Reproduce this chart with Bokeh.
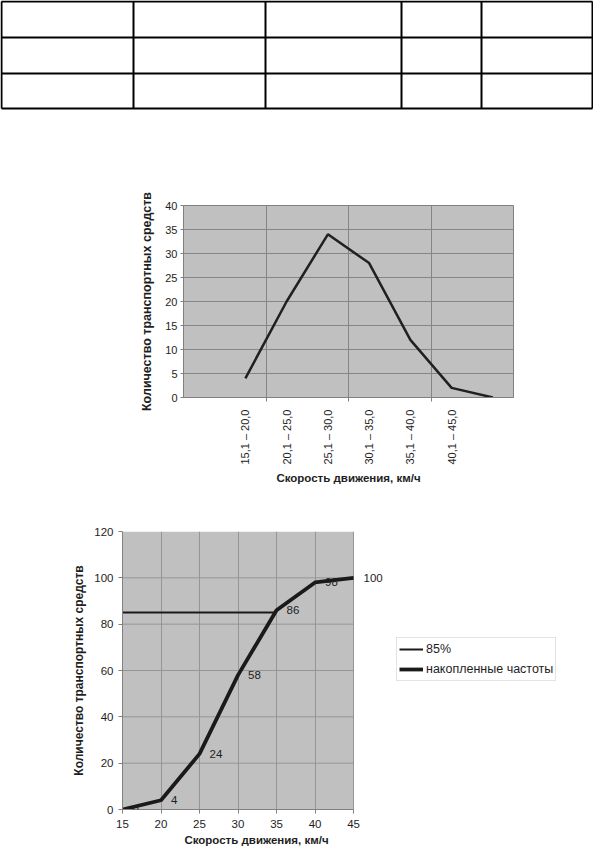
import math
from bokeh.plotting import figure
from bokeh.models import (Range1d, FixedTicker, ColumnDataSource, LabelSet,
                          Legend, LegendItem, Spacer)
from bokeh.layouts import column, row
from bokeh.core.properties import value
from bokeh.embed import file_html
from bokeh.resources import INLINE

FONT = "Liberation Sans"
TXT = "#1e1e1e"

# ---------------- data ----------------
# empty table (structure only)
table_col_widths = [132, 132, 136, 80, 111]
table_row_heights = [36, 36, 35]

# chart 1: distribution of vehicles by speed interval
speed_bins = ["", "15,1 – 20,0", "20,1 – 25,0", "25,1 – 30,0",
              "30,1 – 35,0", "35,1 – 40,0", "40,1 – 45,0", ""]
vehicle_counts = [float("nan"), 4, 20, 34, 28, 12, 2, 0]
y1_ticks = [0, 5, 10, 15, 20, 25, 30, 35, 40]

# chart 2: cumulative frequencies
speed_kmh = [15, 20, 25, 30, 35, 40, 45]
cumulative = [0, 4, 24, 58, 86, 98, 100]
p85_x = [15, 35]
p85_y = [85, 85]
x2_ticks = [15, 20, 25, 30, 35, 40, 45]
y2_ticks = [0, 20, 40, 60, 80, 100, 120]

Y_LABEL = "Количество транспортных средств"
X_LABEL = "Скорость движения, км/ч"

# ---------------- table ----------------
TW, TH = 593, 110
t = figure(width=TW, height=TH, x_range=Range1d(0, TW), y_range=Range1d(TH, 0),
           x_axis_type=None, y_axis_type=None, min_border=0,
           output_backend="svg", toolbar_location=None)
t.grid.visible = False
t.outline_line_color = None
x_edges = [1]
for w in table_col_widths:
    x_edges.append(x_edges[-1] + w)
y_edges = [1]
for h in table_row_heights:
    y_edges.append(y_edges[-1] + h)
t.segment(x0=x_edges, y0=[y_edges[0]] * len(x_edges), x1=x_edges,
          y1=[y_edges[-1]] * len(x_edges), line_color="black", line_width=2)
t.segment(x0=[x_edges[0]] * len(y_edges), y0=y_edges, x1=[x_edges[-1]] * len(y_edges),
          y1=y_edges, line_color="black", line_width=2)

# ---------------- chart 1 ----------------
n = len(speed_bins)
p1 = figure(frame_width=330, frame_height=192,
            min_border_left=53, min_border_right=17, min_border_top=15, min_border_bottom=95,
            x_range=Range1d(-0.5, n - 0.5), y_range=Range1d(0, 40),
            output_backend="svg", toolbar_location=None)
p1.border_fill_color = "white"
p1.background_fill_color = "#c0c0c0"
p1.outline_line_color = "#808080"
p1.line(list(range(n)), vehicle_counts, line_color="#202020", line_width=2.5)

label_pos = [i for i, l in enumerate(speed_bins) if l]
bounds_pos = [i + 0.5 for i in range(1, n - 1, 2)]
xa = p1.xaxis[0]
xa.ticker = FixedTicker(ticks=label_pos, minor_ticks=bounds_pos)
xa.major_label_overrides = {i: speed_bins[i] for i in label_pos}
xa.major_label_orientation = math.pi / 2
xa.major_tick_out = 0
xa.major_tick_in = 0
xa.minor_tick_out = 4
xa.minor_tick_in = 0
xa.minor_tick_line_color = "#808080"
xa.major_label_standoff = 8
xa.axis_label = X_LABEL
xa.axis_label_standoff = 4
p1.xgrid.ticker = FixedTicker(ticks=bounds_pos)

ya = p1.yaxis[0]
ya.ticker = FixedTicker(ticks=y1_ticks)
ya.minor_tick_line_color = None
ya.major_tick_out = 3
ya.major_tick_in = 0
ya.major_label_standoff = 3
ya.axis_label = Y_LABEL
ya.axis_label_standoff = 8

for ax in (xa, ya):
    ax.axis_line_color = "#808080"
    ax.major_tick_line_color = "#808080" if ax is ya else None
    ax.major_label_text_font = FONT
    ax.major_label_text_font_size = "11px"
    ax.major_label_text_color = TXT
    ax.axis_label_text_font = FONT
    ax.axis_label_text_font_style = "bold"
    ax.axis_label_text_color = TXT
xa.axis_label_text_font_size = "11.5px"
ya.axis_label_text_font_size = "12.5px"
for g in (p1.xgrid[0], p1.ygrid[0]):
    g.grid_line_color = "#858585"
    g.grid_line_width = 1

# ---------------- chart 2 ----------------
X2_MIN, X2_MAX = x2_ticks[0], x2_ticks[-1]
Y2_MIN, Y2_MAX = y2_ticks[0], y2_ticks[-1]
X2_VIEW_END = 49.8   # extra room on the right for the last data label
p2 = figure(frame_width=268, frame_height=278,
            min_border_left=62, min_border_right=185, min_border_top=17, min_border_bottom=41,
            x_range=Range1d(X2_MIN, X2_VIEW_END), y_range=Range1d(Y2_MIN, Y2_MAX),
            output_backend="svg", toolbar_location=None)
p2.background_fill_color = "white"
p2.border_fill_color = "white"
p2.outline_line_color = None
# grey plot area 15..45 x 0..120
p2.quad(left=[X2_MIN], right=[X2_MAX], bottom=[Y2_MIN], top=[Y2_MAX],
        fill_color="#c0c0c0", line_color=None, level="image")
p2.ygrid.visible = False
p2.segment(x0=[X2_MIN] * (len(y2_ticks) - 2), x1=[X2_MAX] * (len(y2_ticks) - 2),
           y0=y2_ticks[1:-1], y1=y2_ticks[1:-1], line_color="#959595", line_width=1,
           level="underlay")
p2.xgrid[0].grid_line_color = "#959595"
p2.xgrid[0].grid_line_width = 1

r85 = p2.line(p85_x, p85_y, line_color="#1a1a1a", line_width=2)
rcum = p2.line(speed_kmh, cumulative, line_color="#1a1a1a", line_width=3.8)
src = ColumnDataSource(dict(x=speed_kmh, y=cumulative, lab=[str(v) for v in cumulative]))
p2.add_layout(LabelSet(x="x", y="y", text="lab", source=src, x_offset=10,
                       text_align="left", text_baseline="middle",
                       text_font=value(FONT), text_font_size="11.5px", text_color=TXT))

xb = p2.xaxis[0]
xb.ticker = FixedTicker(ticks=x2_ticks)
xb.bounds = (X2_MIN, X2_MAX)
xb.axis_label = X_LABEL
xb.major_label_standoff = 6
xb.axis_label_standoff = 3
yb = p2.yaxis[0]
yb.ticker = FixedTicker(ticks=y2_ticks)
yb.axis_label = Y_LABEL
yb.major_label_standoff = 5
yb.axis_label_standoff = 5
for ax in (xb, yb):
    ax.minor_tick_line_color = None
    ax.major_tick_out = 4
    ax.major_tick_in = 0
    ax.axis_line_color = "#808080"
    ax.major_tick_line_color = "#808080"
    ax.major_label_text_font = FONT
    ax.major_label_text_font_size = "11.5px"
    ax.major_label_text_color = TXT
    ax.axis_label_text_font = FONT
    ax.axis_label_text_font_style = "bold"
    ax.axis_label_text_color = TXT
xb.axis_label_text_font_size = "11.5px"
yb.axis_label_text_font_size = "12px"

legend = Legend(items=[LegendItem(label="85%", renderers=[r85]),
                       LegendItem(label="накопленные частоты", renderers=[rcum])],
                location=(6, 128), orientation="vertical",
                label_text_font=FONT, label_text_font_size="12.5px", label_text_color=TXT,
                glyph_width=24, glyph_height=18, label_height=18, label_standoff=3,
                spacing=2, padding=2, margin=0,
                border_line_color="#c8c8c8", border_line_width=1,
                background_fill_color="white", background_fill_alpha=1)
p2.add_layout(legend, "right")

layout = column(
    t,
    Spacer(width=10, height=80),
    row(Spacer(width=130, height=10), p1),
    Spacer(width=10, height=22),
    row(Spacer(width=60, height=10), p2),
)

open("out.html", "w").write(file_html(layout, INLINE))
